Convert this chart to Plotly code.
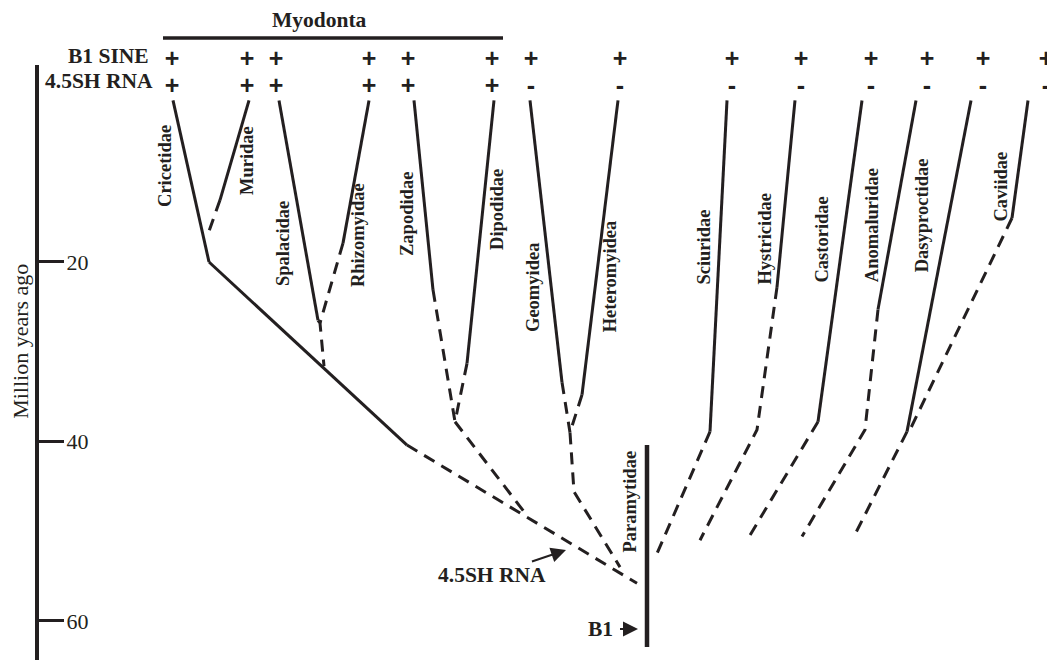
import plotly.graph_objects as go

INK = "#231f20"
SERIF = "Liberation Serif"
SANS = "Liberation Sans"

# ---- age axis (million years ago) ----
age_ticks = [20, 40, 60]
age_axis_span = [-1.95, 64.35]       # drawn extent of the age axis line
view_ages = [64.35, -8.30]           # visible age range (bottom, top)

# ---- taxa and presence of elements ----
taxa = ["Cricetidae", "Muridae", "Spalacidae", "Rhizomyidae", "Zapodidae", "Dipodidae",
        "Geomyidea", "Heteromyidea", "Sciuridae", "Hystricidae", "Castoridae",
        "Anomaluridae", "Dasyproctidae", "Caviidae"]
b1_sine = ["+", "+", "+", "+", "+", "+", "+", "+", "+", "+", "+", "+", "+", "+"]
sh_rna = ["+", "+", "+", "+", "+", "+", "-", "-", "-", "-", "-", "-", "-", "-"]
marker_x = [172, 247, 276, 369, 408, 492, 531, 620, 732, 801, 871, 927, 983, 1046]
b1_row_age = -2.45
sh_row_age = 0.61

label_x = [165, 247, 283, 358, 407, 497, 533, 610, 704, 765, 822, 872, 922, 1001]
label_age = [9.3, 8.75, 18.0, 17.0, 14.65, 14.2, 22.9, 21.6, 18.4, 17.5, 17.5, 15.9, 14.8, 11.6]

# ---- branches: (x, age) vertices ----
solid_branches = [
    [(173, 2.0), (209, 20.0)],                 # Cricetidae
    [(249, 2.0), (220, 13.1)],                 # Muridae
    [(209, 20.0), (407, 40.4)],                # Myomorph stem
    [(279, 2.0), (318, 26.5)],                 # Spalacidae
    [(369, 2.0), (343, 17.9)],                 # Rhizomyidae
    [(414, 2.0), (433, 23.1)],                 # Zapodidae
    [(494, 2.0), (467, 31.3)],                 # Dipodidae
    [(530, 2.0), (562, 33.4)],                 # Geomyidea
    [(618, 2.0), (582, 34.8)],                 # Heteromyidea
    [(727, 2.0), (710, 38.9)],                 # Sciuridae
    [(795, 2.0), (777, 22.8)],                 # Hystricidae
    [(862, 2.0), (818, 37.8)],                 # Castoridae
    [(916, 2.0), (878, 25.3)],                 # Anomaluridae
    [(971, 2.0), (907, 38.9)],                 # Dasyproctidae
    [(1028, 2.0), (1012, 15.1)],               # Caviidae
]
dashed_branches = [
    [(220, 13.1), (207, 17.2)],
    [(318, 26.5), (320, 26.8), (324, 31.6)],
    [(343, 17.9), (320, 26.8)],
    [(407, 40.4), (637, 55.8)],
    [(433, 23.1), (455, 37.8)],
    [(467, 31.3), (455, 37.8)],
    [(455, 37.8), (528, 48.4)],
    [(562, 33.4), (570, 39.0)],
    [(582, 34.8), (570, 39.0)],
    [(570, 39.0), (574, 45.6), (620, 54.0)],
    [(710, 38.9), (655, 53.0)],
    [(777, 22.8), (757, 38.7), (700, 51.0)],
    [(818, 37.8), (747, 51.0)],
    [(878, 25.3), (865, 38.7), (802, 50.6)],
    [(907, 38.9), (853, 50.8)],
    [(1012, 15.1), (910, 38.7)],
]

paramytidae_x = 647
paramytidae_span = [40.4, 62.9]
myodonta_x = [163, 503]
myodonta_age = -4.96
myodonta_label_age = -6.96

sh_event = (566, 52.1)    # 4.5SH RNA origin
b1_event = (638, 60.9)    # B1 origin

AXIS_X = 37
PAGE_OFFSET = 8           # default body margin of the html page
FIG_W, FIG_H = 1055 - PAGE_OFFSET, 660 - PAGE_OFFSET


def flatten(branches):
    xs, ys = [], []
    for br in branches:
        for x, y in br:
            xs.append(x)
            ys.append(y)
        xs.append(None)
        ys.append(None)
    return xs, ys


fig = go.Figure()

sx, sy = flatten(solid_branches)
fig.add_trace(go.Scatter(x=sx, y=sy, mode="lines", line=dict(color=INK, width=3),
                         hoverinfo="skip", showlegend=False))
dx, dy = flatten(dashed_branches)
fig.add_trace(go.Scatter(x=dx, y=dy, mode="lines",
                         line=dict(color=INK, width=3, dash="12px,8px"),
                         hoverinfo="skip", showlegend=False))

# age axis line
fig.add_trace(go.Scatter(x=[AXIS_X, AXIS_X], y=age_axis_span, mode="lines",
                         line=dict(color=INK, width=4), hoverinfo="skip", showlegend=False))
# Paramytidae bar
fig.add_trace(go.Scatter(x=[paramytidae_x, paramytidae_x], y=paramytidae_span, mode="lines",
                         line=dict(color=INK, width=4.5), hoverinfo="skip", showlegend=False))
# Myodonta bar
fig.add_trace(go.Scatter(x=myodonta_x, y=[myodonta_age, myodonta_age], mode="lines",
                         line=dict(color=INK, width=3.5), hoverinfo="skip", showlegend=False))

# presence markers
mk_font = dict(family=SANS, size=25, color=INK, weight="bold")
fig.add_trace(go.Scatter(x=marker_x, y=[b1_row_age] * len(marker_x), mode="text", text=b1_sine,
                         textfont=mk_font, textposition="middle center",
                         hoverinfo="skip", showlegend=False, cliponaxis=False))
fig.add_trace(go.Scatter(x=marker_x, y=[sh_row_age] * len(marker_x), mode="text", text=sh_rna,
                         textfont=mk_font, textposition="middle center",
                         hoverinfo="skip", showlegend=False, cliponaxis=False))

ann = []
bold = dict(family=SERIF, size=21.5, color=INK)
ann.append(dict(x=151, y=-2.9, text="<b>B1 SINE</b>", showarrow=False, xanchor="right",
                yanchor="middle", font=bold))
ann.append(dict(x=155, y=-0.17, text="<b>4.5SH RNA</b>", showarrow=False, xanchor="right",
                yanchor="middle", font=bold))
ann.append(dict(x=319, y=myodonta_label_age, text="<b>Myodonta</b>", showarrow=False,
                xanchor="center", yanchor="middle", font=bold))

lab_font = dict(family=SERIF, size=18.5, color=INK)
for name, x, a in zip(taxa, label_x, label_age):
    ann.append(dict(x=x, y=a, text="<b>%s</b>" % name, showarrow=False, textangle=-90,
                    xanchor="center", yanchor="middle", font=lab_font))
ann.append(dict(x=630, y=46.7, text="<b>Paramytidae</b>", showarrow=False, textangle=-90,
                xanchor="center", yanchor="middle", font=lab_font))

ann.append(dict(x=sh_event[0], y=sh_event[1], text="<b>4.5SH RNA</b>", showarrow=True,
                ax=-74, ay=25, arrowhead=2, arrowsize=1.5, arrowwidth=2, arrowcolor=INK,
                font=bold))
ann.append(dict(x=b1_event[0], y=b1_event[1], text="<b>B1</b>", showarrow=True,
                ax=-38, ay=0, arrowhead=2, arrowsize=1.5, arrowwidth=2, arrowcolor=INK,
                startstandoff=6, font=bold))

ann.append(dict(x=21, xref="x", y=28.9, text="Million years ago", showarrow=False,
                textangle=-90, xanchor="center", yanchor="middle",
                font=dict(family=SERIF, size=22, color=INK)))

fig.update_layout(
    width=FIG_W, height=FIG_H,
    margin=dict(l=0, r=0, t=0, b=0),
    paper_bgcolor="white", plot_bgcolor="white",
    showlegend=False,
    annotations=ann,
    xaxis=dict(range=[PAGE_OFFSET, 1055], visible=False, fixedrange=True),
    yaxis=dict(range=view_ages, anchor="free", position=(AXIS_X - PAGE_OFFSET) / FIG_W,
               showgrid=False, zeroline=False, showline=False,
               tickmode="array", tickvals=age_ticks, ticktext=[str(t) for t in age_ticks],
               ticks="inside", ticklen=26, tickwidth=2.5, tickcolor=INK,
               ticklabelposition="inside", ticklabelstandoff=4,
               tickfont=dict(family=SERIF, size=22, color=INK), fixedrange=True),
)

fig.write_html("out.html")
